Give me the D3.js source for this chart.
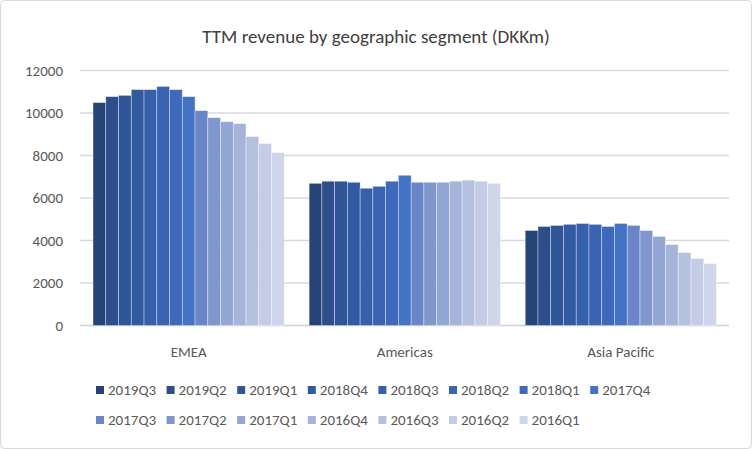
<!DOCTYPE html>
<html><head><meta charset="utf-8">
<script src="https://cdn.jsdelivr.net/npm/d3@7"></script>
<style>body{margin:0;background:#fff}</style></head>
<body><svg id="c" width="752" height="449"></svg>
<script>
const categories = ["EMEA","Americas","Asia Pacific"];
const seriesNames = ["2019Q3","2019Q2","2019Q1","2018Q4","2018Q3","2018Q2","2018Q1","2017Q4","2017Q3","2017Q2","2017Q1","2016Q4","2016Q3","2016Q2","2016Q1"];
const emea = [10490,10770,10830,11100,11100,11250,11100,10770,10110,9780,9590,9500,8890,8560,8140];
const americas = [6690,6790,6790,6740,6460,6550,6790,7070,6740,6740,6740,6790,6840,6790,6690];
const asiaPacific = [4470,4660,4710,4760,4800,4760,4660,4800,4710,4470,4190,3810,3430,3150,2910];
const colors = ["#264478","#2D4E8A","#2F5597","#325AA0","#3760AA","#3A64B2","#3F6ABC","#4472C4","#6A86C9","#8097CE","#94A6D3","#A6B4D9","#B6C1DF","#C4CDE5","#D0D6EA"];
const yTicks = [0,2000,4000,6000,8000,10000,12000];
const values = [emea, americas, asiaPacific];

const svg = d3.select("#c");
const font = "Calibri, Carlito, 'Liberation Sans', Arial, sans-serif";
svg.append("rect").attr("x",0.5).attr("y",0.5).attr("width",751).attr("height",448).attr("rx",4)
  .attr("fill","#fff").attr("stroke","#d9d9d9");
svg.append("text").attr("x",376).attr("y",43).attr("text-anchor","middle")
  .attr("font-family",font).attr("font-size",19).attr("fill","#404040")
  .text("TTM revenue by geographic segment (DKKm)");

const x0 = d3.scaleBand().domain(categories).range([80.5,729]).paddingInner(0.115).paddingOuter(0.058);
const x1 = d3.scaleBand().domain(seriesNames).range([0,x0.bandwidth()]).padding(0);
const y = d3.scaleLinear().domain([0,12000]).range([325.5,70.5]);

svg.append("g").selectAll("line").data(yTicks).join("line")
  .attr("x1",80).attr("x2",729).attr("y1",d=>y(d)).attr("y2",d=>y(d))
  .attr("stroke",(d)=>d===0?"#d0d0d0":"#d9d9d9").attr("stroke-width",1.3);
svg.append("g").selectAll("text").data(yTicks).join("text")
  .attr("x",63).attr("y",d=>y(d)+5).attr("text-anchor","end")
  .attr("font-family",font).attr("font-size",15).attr("fill","#595959").text(d=>d);

const g = svg.append("g");
categories.forEach((c,ci)=>{
  g.append("g").attr("transform",`translate(${x0(c)},0)`)
   .selectAll("rect").data(seriesNames.map((s,si)=>({s,v:values[ci][si],col:colors[si]}))).join("rect")
   .attr("x",d=>x1(d.s)).attr("width",x1.bandwidth()).attr("y",d=>y(d.v)).attr("height",d=>y(0)-y(d.v))
   .attr("fill",d=>d.col).attr("stroke","#ffffff").attr("stroke-opacity",0.5).attr("stroke-width",0.7);
});
svg.append("g").selectAll("text").data(categories).join("text")
  .attr("x",d=>x0(d)+x0.bandwidth()/2).attr("y",357).attr("text-anchor","middle")
  .attr("font-family",font).attr("font-size",15).attr("fill","#595959").text(d=>d);

const leg = svg.append("g");
seriesNames.forEach((s,i)=>{
  const row = Math.floor(i/8), col = i%8;
  const lx = 96 + col*70.6, ly = 390 + row*30;
  leg.append("rect").attr("x",lx).attr("y",ly-4).attr("width",8).attr("height",8).attr("fill",colors[i]);
  leg.append("text").attr("x",lx+12).attr("y",ly+5).attr("font-family",font).attr("font-size",15)
    .attr("fill","#595959").text(s);
});
</script></body></html>
